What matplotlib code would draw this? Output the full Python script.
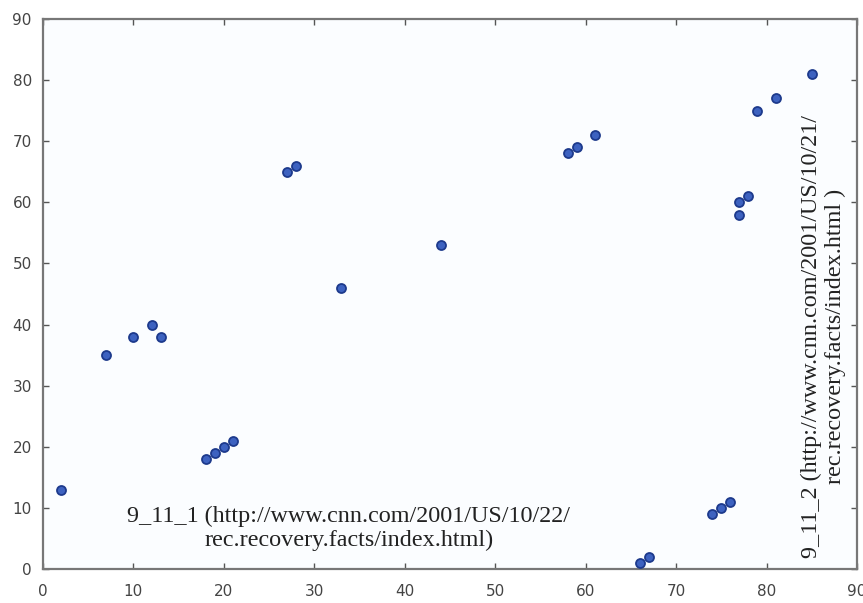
import numpy as np
import matplotlib
matplotlib.use("Agg")
import matplotlib.pyplot as plt

# point coordinates
x = [2, 7, 10, 12, 13, 18, 19, 20, 21, 27, 28, 33, 44, 58, 59, 61,
     66, 67, 74, 75, 76, 77, 77, 78, 79, 81, 85]
y = [13, 35, 38, 40, 38, 18, 19, 20, 21, 65, 66, 46, 53, 68, 69, 71,
     1, 2, 9, 10, 11, 60, 58, 61, 75, 77, 81]

ticks = list(range(0, 91, 10))
label_1 = "9_11_1 (http://www.cnn.com/2001/US/10/22/\nrec.recovery.facts/index.html)"
label_2 = "9_11_2 (http://www.cnn.com/2001/US/10/21/\nrec.recovery.facts/index.html )"

fig = plt.figure(figsize=(8.63, 6.03), dpi=100)
fig.patch.set_facecolor("white")
ax = fig.add_axes([0.0498, 0.0564, 0.9432, 0.9121])
ax.set_facecolor("#fbfdff")

ax.scatter(x, y, s=42, color="#3d62c0", edgecolors="#1d3a8c", linewidths=1.3, zorder=3)

ax.set_xlim(0, 90)
ax.set_ylim(0, 90)
ax.set_xticks(ticks)
ax.set_yticks(ticks)
ax.tick_params(direction="in", length=4, width=1, colors="#555555",
               labelcolor="#444444", labelsize=11, top=True, right=True)
ax.tick_params(axis="x", pad=11)
ax.tick_params(axis="y", pad=8)
for s in ax.spines.values():
    s.set_color("#777777")
    s.set_linewidth(1.6)

ax.text(33.8, 6.6, label_1, ha="center", va="center", multialignment="center",
        fontsize=17.4, family="Liberation Serif", color="#222222")
ax.text(86.3, 38.0, label_2, ha="center", va="center", multialignment="center",
        rotation=90, fontsize=17.4, family="Liberation Serif", color="#222222")

fig.savefig("out.png", dpi=100)
